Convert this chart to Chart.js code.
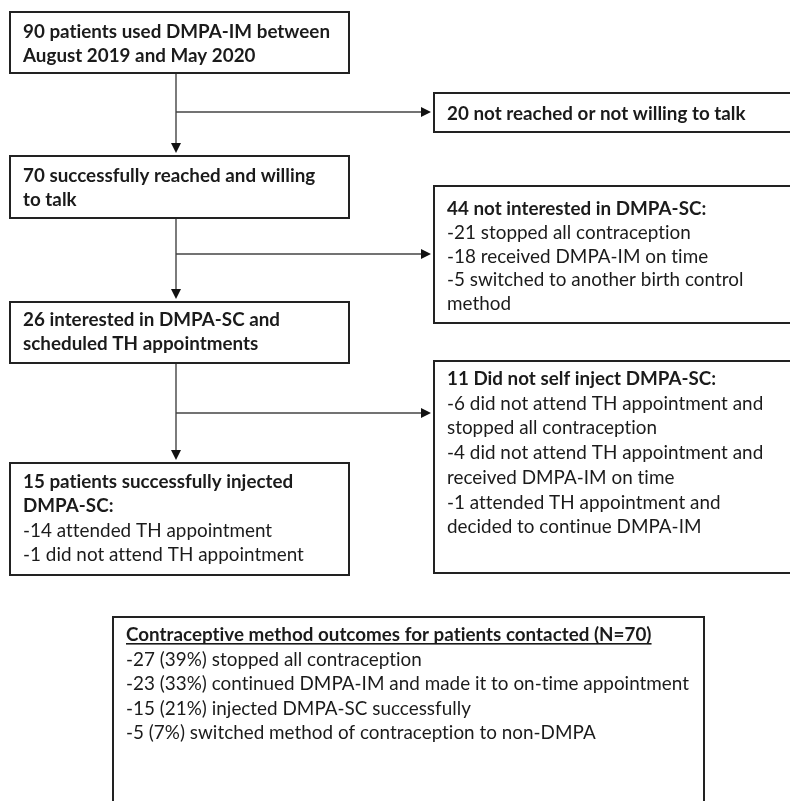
<!DOCTYPE html>
<html>
<head>
<meta charset="utf-8">
<script src="https://cdn.jsdelivr.net/npm/chart.js@4/dist/chart.umd.min.js"></script>
<style>
html,body{margin:0;padding:0;background:#fff;}
#wrap{width:790px;height:801px;position:relative;}
canvas{display:block;}
</style>
</head>
<body>
<div id="wrap"><canvas id="c" width="790" height="801"></canvas></div>
<script>
// ---------- DATA ----------
const mainStepCounts = [90, 70, 26, 15];
const mainStepTitles = [
  ["90 patients used DMPA-IM between", "August 2019 and May 2020"],
  ["70 successfully reached and willing", "to talk"],
  ["26 interested in DMPA-SC and", "scheduled TH appointments"],
  ["15 patients successfully injected", "DMPA-SC:"]
];
const mainStepDetails = [
  [],
  [],
  [],
  ["-14 attended TH appointment", "-1 did not attend TH appointment"]
];
const sideStepCounts = [20, 44, 11];
const sideStepTitles = [
  ["20 not reached or not willing to talk"],
  ["44 not interested in DMPA-SC:"],
  ["11 Did not self inject DMPA-SC:"]
];
const sideStepDetails = [
  [],
  ["-21 stopped all contraception", "-18 received DMPA-IM on time", "-5 switched to another birth control", "method"],
  ["-6 did not attend TH appointment and", "stopped all contraception", "-4 did not attend TH appointment and", "received DMPA-IM on time", "-1 attended TH appointment and", "decided to continue DMPA-IM"]
];
const outcomeTitle = "Contraceptive method outcomes for patients contacted (N=70)";
const outcomeCounts = [27, 23, 15, 5];
const outcomePercents = [39, 33, 21, 7];
const outcomeLabels = [
  "stopped all contraception",
  "continued DMPA-IM and made it to on-time appointment",
  "injected DMPA-SC successfully",
  "switched method of contraception to non-DMPA"
];

// ---------- LAYOUT (scale units) ----------
const mainBoxX = [10, 349];
const mainBoxY = [[12, 73], [156, 218], [302, 363], [463, 575]];
const mainFirstBaseline = [26, 26, 24, 25];
const sideBoxX = [434, 800];
const sideBoxY = [[93, 132], [186, 323], [361, 573]];
const sideFirstBaseline = [27, 29, 24];
const sideLineGap = [24, 23.8, 24.7];
const branchY = [112, 254, 413];
const trunkX = 176;
const outcomeBox = [113, 617, 704, 830];
const outcomeFirstBaseline = 24;
const outcomeLineGap = 24.5;

const FAMILY = 'Lato, "Open Sans", sans-serif';
const INK = '#1b1b1b';
const FONT_PX = 18.6;

const flowPlugin = {
  id: 'flow',
  afterDraw(chart) {
    const ctx = chart.ctx;
    const xs = chart.scales.x, ys = chart.scales.y;
    const X = v => xs.getPixelForValue(v);
    const Y = v => ys.getPixelForValue(v);
    ctx.save();
    try { ctx.letterSpacing = '0.01px'; } catch (e) {}
    const boldFont = 'bold ' + FONT_PX + 'px ' + FAMILY;
    const regFont = 'normal ' + FONT_PX + 'px ' + FAMILY;
    ctx.font = boldFont;
    const boldSX = 307 / ctx.measureText(mainStepTitles[0][0]).width;
    ctx.font = regFont;
    const regSX = 563 / ctx.measureText('-' + outcomeCounts[1] + ' (' + outcomePercents[1] + '%) ' + outcomeLabels[1]).width;

    function put(t, font, sx, x, y) {
      ctx.font = font;
      ctx.save();
      ctx.translate(x, y);
      ctx.scale(sx, 1);
      ctx.fillText(t, 0, 0);
      ctx.restore();
      return ctx.measureText(t).width * sx;
    }
    function rect(x0, y0, x1, y1) {
      ctx.strokeStyle = '#222';
      ctx.lineWidth = 2;
      ctx.strokeRect(Math.round(X(x0)), Math.round(Y(y0)), X(x1) - X(x0), Y(y1) - Y(y0));
    }
    function line(x0, y0, x1, y1) {
      ctx.strokeStyle = '#444';
      ctx.lineWidth = 1.4;
      ctx.beginPath();
      ctx.moveTo(X(x0), Y(y0));
      ctx.lineTo(X(x1), Y(y1));
      ctx.stroke();
    }
    function arrowDown(x, yTip) {
      ctx.fillStyle = '#111';
      ctx.beginPath();
      ctx.moveTo(X(x), Y(yTip));
      ctx.lineTo(X(x) - 5, Y(yTip) - 10);
      ctx.lineTo(X(x) + 5, Y(yTip) - 10);
      ctx.closePath();
      ctx.fill();
    }
    function arrowRight(xTip, y) {
      ctx.fillStyle = '#111';
      ctx.beginPath();
      ctx.moveTo(X(xTip), Y(y));
      ctx.lineTo(X(xTip) - 10, Y(y) - 5);
      ctx.lineTo(X(xTip) - 10, Y(y) + 5);
      ctx.closePath();
      ctx.fill();
    }
    function textLines(titles, details, x, y, gap) {
      ctx.fillStyle = INK;
      ctx.textBaseline = 'alphabetic';
      ctx.textAlign = 'left';
      let yy = y;
      titles.forEach(t => { put(t, boldFont, boldSX, X(x), Y(yy)); yy += gap; });
      details.forEach(t => { put(t, regFont, regSX, X(x), Y(yy)); yy += gap; });
    }

    for (let i = 0; i < mainBoxY.length - 1; i++) {
      const yFrom = mainBoxY[i][1], yTo = mainBoxY[i + 1][0] - 3;
      line(trunkX, yFrom, trunkX, yTo - 8);
      arrowDown(trunkX, yTo);
      line(trunkX, branchY[i], sideBoxX[0] - 12, branchY[i]);
      arrowRight(sideBoxX[0] - 3, branchY[i]);
    }

    mainBoxY.forEach((yy, i) => {
      rect(mainBoxX[0], yy[0], mainBoxX[1], yy[1]);
      textLines(mainStepTitles[i], mainStepDetails[i], mainBoxX[0] + 13, yy[0] + mainFirstBaseline[i], 24.3);
    });
    sideBoxY.forEach((yy, i) => {
      rect(sideBoxX[0], yy[0], sideBoxX[1], yy[1]);
      textLines(sideStepTitles[i], sideStepDetails[i], sideBoxX[0] + 13, yy[0] + sideFirstBaseline[i], sideLineGap[i]);
    });

    rect(outcomeBox[0], outcomeBox[1], outcomeBox[2], outcomeBox[3]);
    ctx.fillStyle = INK;
    const tx = outcomeBox[0] + 13;
    let ty = outcomeBox[1] + outcomeFirstBaseline;
    const tw = put(outcomeTitle, boldFont, boldSX, X(tx), Y(ty));
    ctx.fillRect(X(tx), Y(ty) + 2, tw, 1.6);
    outcomeCounts.forEach((c, i) => {
      ty += outcomeLineGap;
      put('-' + c + ' (' + outcomePercents[i] + '%) ' + outcomeLabels[i], regFont, regSX, X(tx), Y(ty));
    });
    ctx.restore();
  }
};

const anchorPoints = mainStepCounts.map((c, i) => ({ x: (mainBoxX[0] + mainBoxX[1]) / 2, y: (mainBoxY[i][0] + mainBoxY[i][1]) / 2 }))
  .concat(sideStepCounts.map((c, i) => ({ x: sideBoxX[0] + 100, y: (sideBoxY[i][0] + sideBoxY[i][1]) / 2 })));

new Chart(document.getElementById('c'), {
  type: 'scatter',
  data: { datasets: [{ data: anchorPoints, pointRadius: 0, pointHoverRadius: 0, showLine: false }] },
  options: {
    responsive: false,
    animation: false,
    events: [],
    layout: { padding: 0 },
    plugins: { legend: { display: false }, tooltip: { enabled: false } },
    scales: {
      x: { type: 'linear', min: 0, max: 790, display: false },
      y: { type: 'linear', min: 0, max: 801, reverse: true, display: false }
    }
  },
  plugins: [flowPlugin]
});
</script>
</body>
</html>
